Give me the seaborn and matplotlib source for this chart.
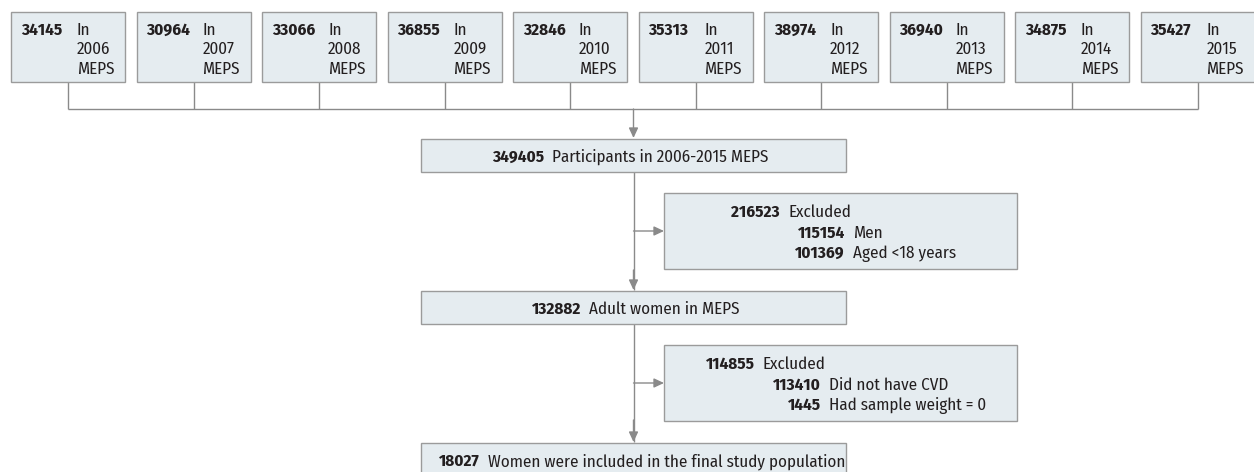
import matplotlib
matplotlib.use("Agg")
import matplotlib.pyplot as plt
from matplotlib import font_manager
from matplotlib.patches import Rectangle, FancyArrowPatch
import seaborn as sns

sns.set_theme(style="white")
names = {f.name for f in font_manager.fontManager.ttflist}
prefs = ["Fira Sans Condensed", "Roboto Condensed", "PT Sans Narrow",
         "Open Sans Condensed", "Encode Sans Condensed", "Lato"]
FONT = next(p for p in prefs if p in names or p == "Lato")
plt.rcParams['font.family'] = [FONT, 'DejaVu Sans']

# ---- data ----
years = ["2006", "2007", "2008", "2009", "2010", "2011", "2012", "2013", "2014", "2015"]
year_counts = ["34145", "30964", "33066", "36855", "32846", "35313", "38974", "36940", "34875", "35427"]
main_counts = ["349405", "132882", "18027"]
main_labels = ["Participants in 2006-2015 MEPS", "Adult women in MEPS",
               "Women were included in the final study population"]
excl1_counts = ["216523", "115154", "101369"]
excl1_labels = ["Excluded", "Men", "Aged <18 years"]
excl2_counts = ["114855", "113410", "1445"]
excl2_labels = ["Excluded", "Did not have CVD", "Had sample weight = 0"]

FILL = "#E5ECF0"
EDGE = "#9B9B9B"
LINE = "#8A8A8A"
TXT = "#231F20"

fig = plt.figure(figsize=(12.54, 4.72), dpi=100)
ax = fig.add_axes([0, 0, 1, 1])
ax.set_xlim(0, 1254)
ax.set_ylim(472, 0)
ax.axis("off")

# calibrate font size against two reference label widths (~227 px and ~347 px)
renderer = fig.canvas.get_renderer()
widths = []
for lab in (main_labels[0], main_labels[2]):
    probe = ax.text(0, 0, lab, fontsize=10)
    widths.append(probe.get_window_extent(renderer).width)
    probe.remove()
FS = 10 * (227.0 + 347.0) / sum(widths)


def box(x0, y0, x1, y1):
    ax.add_patch(Rectangle((x0, y0), x1 - x0, y1 - y0, facecolor=FILL,
                           edgecolor=EDGE, linewidth=1.0, zorder=2))


def line(xs, ys):
    ax.plot(xs, ys, color=LINE, linewidth=1.0, zorder=1, solid_capstyle="butt")


def arrow(x0, y0, x1, y1):
    ax.add_patch(FancyArrowPatch((x0, y0), (x1, y1),
                                 arrowstyle="-|>,head_length=0.6,head_width=0.28",
                                 mutation_scale=10, color=LINE, linewidth=1.0,
                                 shrinkA=0, shrinkB=0, zorder=1))


# ---- top year boxes ----
pitch = 125.5
bw = 114
for i, (yr, cnt) in enumerate(zip(years, year_counts)):
    x0 = 11 + pitch * i
    box(x0, 12, x0 + bw, 82)
    ax.text(x0 + 10, 35, cnt, fontsize=FS, fontweight="bold", color=TXT,
            ha="left", va="baseline", zorder=3)
    for j, t in enumerate(["In", yr, "MEPS"]):
        ax.text(x0 + 66, 35 + 19.5 * j, t, fontsize=FS, color=TXT,
                ha="left", va="baseline", zorder=3)
    cx = x0 + bw / 2
    line([cx, cx], [82, 109])

first_c = 11 + bw / 2
last_c = 11 + pitch * 9 + bw / 2
line([first_c, last_c], [109, 109])

CX = 633.5
arrow(CX, 109, CX, 138)

# ---- main boxes ----
main_boxes = [(139, 172), (291, 324), (443, 478)]
num_right = [544, 581, 480]
for (y0, y1), cnt, lab, nr in zip(main_boxes, main_counts, main_labels, num_right):
    box(421, y0, 846, y1)
    yb = (y0 + y1) / 2 + 6 if y1 < 472 else 466
    ax.text(nr, yb, cnt, fontsize=FS, fontweight="bold", color=TXT,
            ha="right", va="baseline", zorder=3)
    ax.text(nr + 8, yb, lab, fontsize=FS, color=TXT,
            ha="left", va="baseline", zorder=3)

line([CX, CX], [172, 290])
arrow(CX, 270, CX, 290)
line([CX, CX], [324, 442])
arrow(CX, 420, CX, 442)

# ---- exclusion boxes ----
excl = [
    (193, 269, excl1_counts, excl1_labels, 780, 845),
    (345, 421, excl2_counts, excl2_labels, 755, 821),
]
for y0, y1, cnts, labs, r1, r2 in excl:
    box(664, y0, 1017, y1)
    ym = (y0 + y1) / 2
    arrow(CX, ym, 664, ym)
    for k, (c, l) in enumerate(zip(cnts, labs)):
        yb = y0 + 24 + 20.5 * k
        r = r1 if k == 0 else r2
        ax.text(r, yb, c, fontsize=FS, fontweight="bold", color=TXT,
                ha="right", va="baseline", zorder=3)
        ax.text(r + 8, yb, l, fontsize=FS, color=TXT,
                ha="left", va="baseline", zorder=3)

fig.savefig("out.png", dpi=100, facecolor="white")
